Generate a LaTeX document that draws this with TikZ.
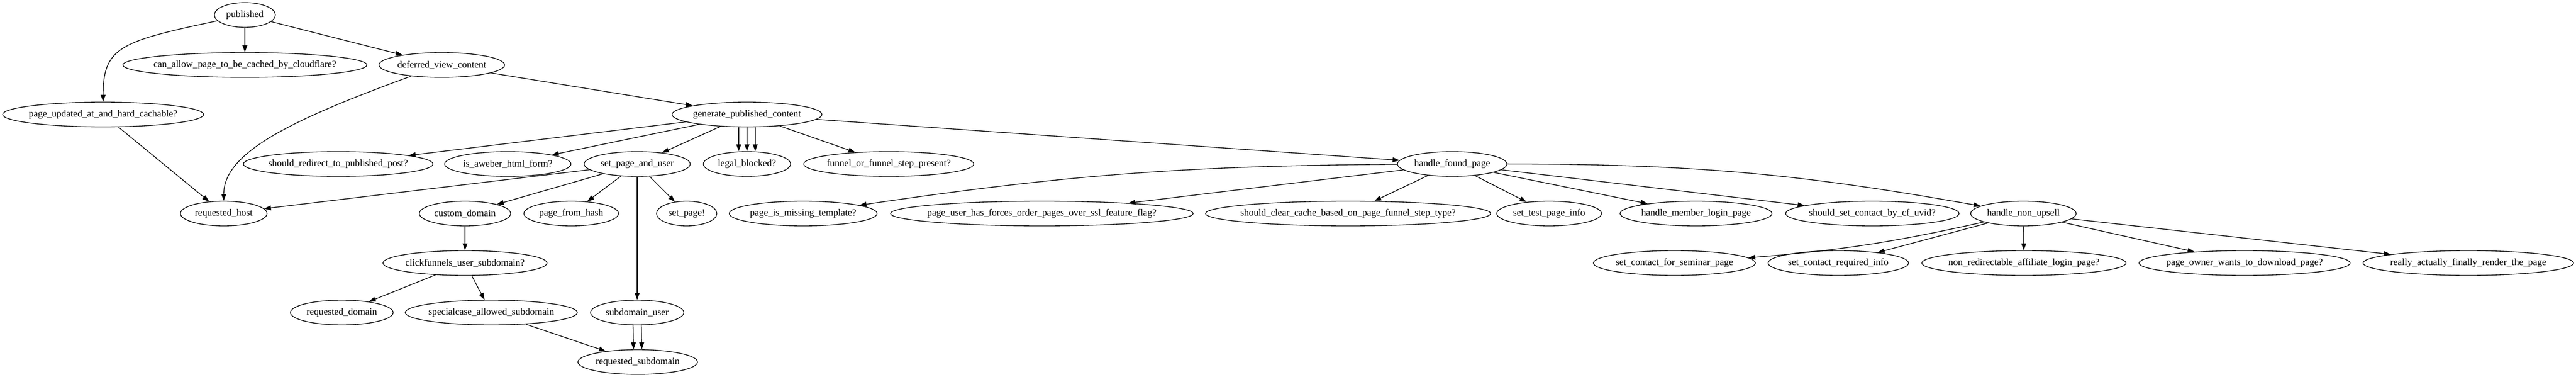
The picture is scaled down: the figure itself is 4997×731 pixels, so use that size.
\documentclass[tikz,border=0pt]{standalone}
\usepackage{fontspec}
\setmainfont{Liberation Serif}
\usetikzlibrary{shapes.geometric,arrows.meta}
\newdimen\lblw
\newbox\lblbox
\begin{document}
\begin{tikzpicture}[
    x=0.75pt, y=0.75pt,
    fnode/.style={ellipse, draw, line width=1pt, inner sep=0pt, minimum height=36pt,
        minimum width={1.26*\lblw+20.16pt}, font=\fontsize{14pt}{17pt}\selectfont,
        execute at begin node={\setbox\lblbox=\hbox\bgroup},
        execute at end node={\egroup\global\lblw=\wd\lblbox\makebox[0pt]{\box\lblbox}}},
    call/.style={draw, line width=1pt, -{Triangle[length=10pt, width=7pt]}}
]
    \useasboundingbox (0,0) rectangle (4997,-731);
    \node[fnode] (pub) at (475,-29) {published};
    \node[fnode] (cac) at (475,-126) {can\_allow\_page\_to\_be\_cached\_by\_cloudflare?};
    \node[fnode] (dvc) at (857,-126) {deferred\_view\_content};
    \node[fnode] (puc) at (200,-222) {page\_updated\_at\_and\_hard\_cachable?};
    \node[fnode] (gpc) at (1449,-222) {generate\_published\_content};
    \node[fnode] (srp) at (656,-318) {should\_redirect\_to\_published\_post?};
    \node[fnode] (ahf) at (985,-318) {is\_aweber\_html\_form?};
    \node[fnode] (spu) at (1236,-318) {set\_page\_and\_user};
    \node[fnode] (lgb) at (1449,-318) {legal\_blocked?};
    \node[fnode] (ffs) at (1724,-318) {funnel\_or\_funnel\_step\_present?};
    \node[fnode] (hfp) at (2817,-318) {handle\_found\_page};
    \node[fnode] (rqh) at (434,-414) {requested\_host};
    \node[fnode] (cdm) at (902,-414) {custom\_domain};
    \node[fnode] (pfh) at (1108,-414) {page\_from\_hash};
    \node[fnode] (stp) at (1332,-414) {set\_page!};
    \node[fnode] (pmt) at (1558,-414) {page\_is\_missing\_template?};
    \node[fnode] (pfo) at (2021,-414) {page\_user\_has\_forces\_order\_pages\_over\_ssl\_feature\_flag?};
    \node[fnode] (scc) at (2615,-414) {should\_clear\_cache\_based\_on\_page\_funnel\_step\_type?};
    \node[fnode] (tpi) at (3005,-414) {set\_test\_page\_info};
    \node[fnode] (hml) at (3290,-414) {handle\_member\_login\_page};
    \node[fnode] (scu) at (3632,-414) {should\_set\_contact\_by\_cf\_uvid?};
    \node[fnode] (hnu) at (3925,-414) {handle\_non\_upsell};
    \node[fnode] (cus) at (902,-510) {clickfunnels\_user\_subdomain?};
    \node[fnode] (csp) at (3248,-510) {set\_contact\_for\_seminar\_page};
    \node[fnode] (cri) at (3566,-510) {set\_contact\_required\_info};
    \node[fnode] (nra) at (3926,-510) {non\_redirectable\_affiliate\_login\_page?};
    \node[fnode] (pow) at (4354,-510) {page\_owner\_wants\_to\_download\_page?};
    \node[fnode] (raf) at (4788,-510) {really\_actually\_finally\_render\_the\_page};
    \node[fnode] (rqd) at (663,-606) {requested\_domain};
    \node[fnode] (sas) at (953,-606) {specialcase\_allowed\_subdomain};
    \node[fnode] (sdu) at (1236,-606) {subdomain\_user};
    \node[fnode] (rqs) at (1237,-702) {requested\_subdomain};

    \draw[call] (pub) to[out=192, in=90, out looseness=1.8] (puc);
    \draw[call] (pub) -- (cac);
    \draw[call] (pub) -- (dvc);
    \draw[call] (dvc) to[out=200, in=90, out looseness=1.45, in looseness=0.55] (rqh);
    \draw[call] (dvc) -- (gpc);
    \draw[call] (puc) -- (rqh);
    \draw[call] (gpc) -- (srp);
    \draw[call] (gpc) -- (ahf);
    \draw[call] (gpc) -- (spu);
    \foreach \dx in {-12pt,0pt,12pt}
        \draw[call] ([xshift=\dx]gpc.south) -- ([xshift=\dx]lgb.north);
    \draw[call] (gpc) -- (ffs);
    \draw[call] (gpc) -- (hfp);
    \draw[call] (spu) -- (rqh);
    \draw[call] (spu) -- (cdm);
    \draw[call] (spu) -- (pfh);
    \draw[call] (spu) -- (sdu);
    \draw[call] (spu) -- (stp);
    \draw[call] (cdm) -- (cus);
    \draw[call] (cus) -- (rqd);
    \draw[call] (cus) -- (sas);
    \draw[call] (sas) -- (rqs);
    \foreach \dx in {-6pt,6pt}
        \draw[call] ([xshift=\dx]sdu.south) -- ([xshift=\dx]rqs.north);
    \draw[call] (hfp) to[bend right=4] (pmt);
    \draw[call] (hfp) -- (pfo);
    \draw[call] (hfp) -- (scc);
    \draw[call] (hfp) -- (tpi);
    \draw[call] (hfp) -- (hml);
    \draw[call] (hfp) -- (scu);
    \draw[call] (hfp) to[bend left=5] (hnu);
    \draw[call] (hnu) to[bend left=4] (csp);
    \draw[call] (hnu) -- (cri);
    \draw[call] (hnu) -- (nra);
    \draw[call] (hnu) -- (pow);
    \draw[call] (hnu) -- (raf);
\end{tikzpicture}
\end{document}
